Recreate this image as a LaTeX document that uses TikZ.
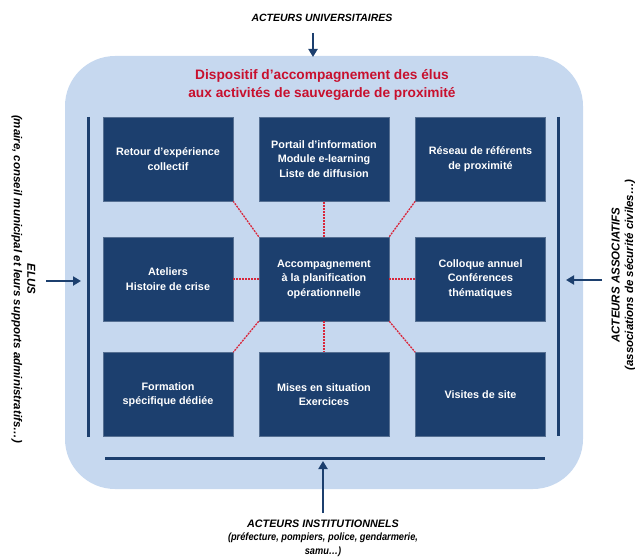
\documentclass[tikz,border=0pt]{standalone}
\usepackage{fontspec}
\setmainfont{Liberation Sans}
\newfontfamily\condB[FakeStretch=0.88]{Liberation Sans}
\usetikzlibrary{arrows.meta}
\definecolor{navy}{HTML}{1C3F6E}
\definecolor{lightbg}{HTML}{C6D8EF}
\definecolor{titlered}{HTML}{C8102E}
\definecolor{dashred}{HTML}{D9263A}
\begin{document}
\begin{tikzpicture}[x=1pt,y=-1pt,
  boxnode/.style={fill=navy,draw=navy!75!white,line width=0.6pt,minimum width=130pt,minimum height=84pt,
    inner sep=2pt,align=center,text=white,font=\bfseries\fontsize{10.8}{14.5}\selectfont},
  bar/.style={navy,line width=3pt},
  bigarrow/.style={navy,line width=2.8pt,-{Triangle[width=9pt,length=8pt]}},
  link/.style={dashred,line width=1.3pt,dash pattern=on 2pt off 1pt},
  outer/.style={align=center,inner sep=0pt,font=\bfseries\itshape\fontsize{11.5}{13.5}\selectfont}]
\useasboundingbox (0,0) rectangle (635,559);
\fill[lightbg,rounded corners=50pt] (65,56) rectangle (583,489);

\node[font=\bfseries\fontsize{13.7}{18}\selectfont,text=titlered,align=center,inner sep=0pt] (title) at (322,85)
  {Dispositif d’accompagnement des élus\\aux activités de sauvegarde de proximité};

\node[boxnode] (b11) at (168,159) {Retour d’expérience\\collectif};
\node[boxnode] (b12) at (324,159) {Portail d’information\\Module e-learning\\Liste de diffusion};
\node[boxnode] (b13) at (480.5,159) {Réseau de référents\\de proximité};
\node[boxnode] (b21) at (168,279) {Ateliers\\Histoire de crise};
\node[boxnode] (b22) at (324,279) {Accompagnement\\à la planification\\opérationnelle};
\node[boxnode] (b23) at (480.5,279) {Colloque annuel\\Conférences\\thématiques};
\node[boxnode] (b31) at (168,394.5) {Formation\\spécifique dédiée};
\node[boxnode] (b32) at (324,394.5) {Mises en situation\\Exercices};
\node[boxnode] (b33) at (480.5,394.5) {Visites de site};

\draw[link] (b22.north west) -- (b11.south east);
\draw[link] (b22.north) -- (b12.south);
\draw[link] (b22.north east) -- (b13.south west);
\draw[link] (b22.west) -- (b21.east);
\draw[link] (b22.east) -- (b23.west);
\draw[link] (b22.south west) -- (b31.north east);
\draw[link] (b22.south) -- (b32.north);
\draw[link] (b22.south east) -- (b33.north west);

\coordinate (lt) at (88,117); \coordinate (lb) at (88,437);
\coordinate (rt) at (558,117); \coordinate (rb) at (558,436);
\coordinate (bl) at (105,458); \coordinate (br) at (545,458);
\draw[bar] (lt) -- (lb);
\draw[bar] (rt) -- (rb);
\draw[bar] (bl) -- (br);

\node[outer,font=\bfseries\itshape\fontsize{10.5}{13.5}\selectfont] (univ) at (322,18) {ACTEURS UNIVERSITAIRES};
\node[outer,rotate=-90] (elus) at (23.5,279) {ELUS\\(maire, conseil municipal et leurs supports administratifs…)};
\node[outer,rotate=90] (asso) at (623.5,275) {ACTEURS ASSOCIATIFS\\(associations de sécurité civiles…)};
\node[outer,font=\bfseries\itshape\fontsize{10.5}{13.5}\selectfont] (inst) at (323,538)
  {\fontsize{10.8}{13.5}\selectfont ACTEURS INSTITUTIONNELS\\{\condB(préfecture, pompiers, police, gendarmerie,}\\{\condB samu…)}};

\coordinate (ua) at (313,33); \coordinate (ub) at (313,57);
\coordinate (ea) at (46,281); \coordinate (eb) at (81,281);
\coordinate (aa) at (602,280); \coordinate (ab) at (566,280);
\coordinate (ia) at (323,513); \coordinate (ib) at (323,461);
\draw[bigarrow] (ua) -- (ub);
\draw[bigarrow] (ea) -- (eb);
\draw[bigarrow] (aa) -- (ab);
\draw[bigarrow] (ia) -- (ib);
\end{tikzpicture}
\end{document}
